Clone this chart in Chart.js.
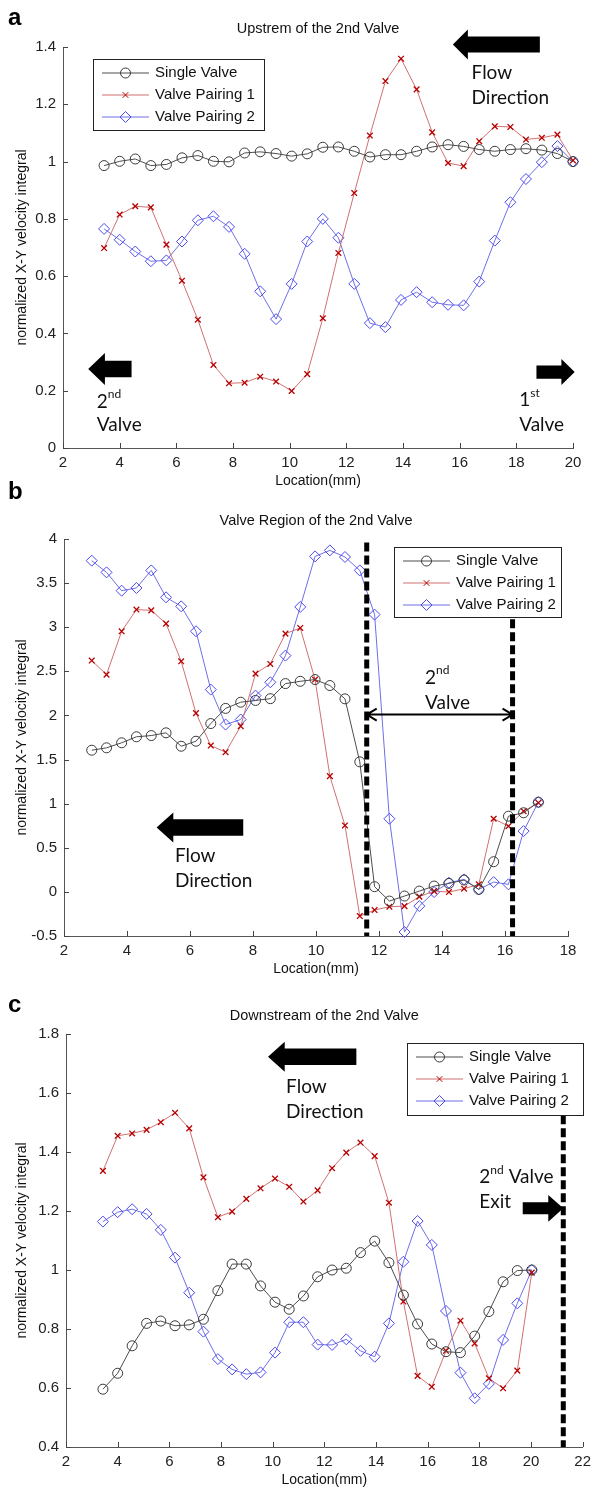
<!DOCTYPE html>
<html>
<head>
<meta charset="utf-8">
<script src="https://cdn.jsdelivr.net/npm/chart.js@4.4.1/dist/chart.umd.min.js"></script>
<style>
  body { margin: 0; background: #fff; width: 597px; height: 1490px; overflow: hidden; position: relative; }
  canvas { position: absolute; left: 0; }
</style>
</head>
<body>
<canvas id="chartA" width="597" height="495" style="top:0px"></canvas>
<canvas id="chartB" width="597" height="508" style="top:475px"></canvas>
<canvas id="chartC" width="597" height="505" style="top:985px"></canvas>
<script>
// series names (same three runs in every panel)
const SERIES = ["Single Valve", "Valve Pairing 1", "Valve Pairing 2"];

// a: upstream of the 2nd valve
const locUp = [3.45, 4.0, 4.55, 5.1, 5.65, 6.2, 6.76, 7.31, 7.86, 8.41, 8.96, 9.52, 10.07, 10.62, 11.17, 11.72,
  12.28, 12.83, 13.38, 13.93, 14.48, 15.03, 15.59, 16.14, 16.69, 17.24, 17.79, 18.34, 18.9, 19.45, 20.0];
const upSingle = [0.986, 1.001, 1.009, 0.986, 0.99, 1.013, 1.021, 1.001, 0.999, 1.03, 1.034, 1.028, 1.019, 1.027, 1.05, 1.051,
  1.036, 1.016, 1.024, 1.024, 1.036, 1.051, 1.059, 1.053, 1.042, 1.036, 1.042, 1.045, 1.04, 1.028, 1.0];
const upPair1 = [0.698, 0.815, 0.844, 0.84, 0.71, 0.584, 0.448, 0.29, 0.226, 0.228, 0.249, 0.232, 0.199, 0.258, 0.453, 0.681,
  0.89, 1.091, 1.281, 1.359, 1.252, 1.102, 0.995, 0.984, 1.071, 1.123, 1.121, 1.077, 1.083, 1.094, 1.004];
const upPair2 = [0.765, 0.727, 0.686, 0.652, 0.655, 0.721, 0.795, 0.809, 0.772, 0.678, 0.547, 0.45, 0.573, 0.721, 0.80, 0.734,
  0.573, 0.436, 0.422, 0.517, 0.544, 0.509, 0.50, 0.498, 0.581, 0.724, 0.858, 0.939, 0.998, 1.054, 1.0];

// b: valve region of the 2nd valve
const locValve = [2.88, 3.35, 3.83, 4.3, 4.77, 5.24, 5.72, 6.19, 6.66, 7.13, 7.61, 8.08, 8.55, 9.03, 9.5, 9.97,
  10.44, 10.92, 11.39, 11.86, 12.33, 12.81, 13.28, 13.75, 14.22, 14.7, 15.17, 15.64, 16.11, 16.59, 17.06];
const valveSingle = [1.606, 1.633, 1.69, 1.758, 1.772, 1.803, 1.651, 1.708, 1.908, 2.08, 2.15, 2.17, 2.19, 2.361, 2.387, 2.407,
  2.339, 2.188, 1.474, 0.059, -0.104, -0.047, 0.009, 0.066, 0.096, 0.134, 0.028, 0.342, 0.858, 0.897, 1.017];
const valvePair1 = [2.622, 2.463, 2.954, 3.2, 3.191, 3.041, 2.614, 2.026, 1.659, 1.583, 1.878, 2.474, 2.584, 2.927, 2.992, 2.407,
  1.312, 0.753, -0.274, -0.206, -0.168, -0.161, -0.054, 0.009, -0.002, 0.036, 0.085, 0.829, 0.745, 0.915, 1.01];
const valvePair2 = [3.754, 3.622, 3.414, 3.445, 3.644, 3.339, 3.237, 2.954, 2.293, 1.897, 1.954, 2.225, 2.376, 2.678, 3.23, 3.803,
  3.871, 3.796, 3.644, 3.143, 0.829, -0.455, -0.161, -0.002, 0.104, 0.142, 0.028, 0.111, 0.085, 0.689, 1.017];

// c: downstream of the 2nd valve
const locDown = [3.43, 4.0, 4.56, 5.12, 5.67, 6.22, 6.77, 7.32, 7.88, 8.43, 8.98, 9.53, 10.09, 10.64, 11.19, 11.74,
  12.3, 12.85, 13.4, 13.95, 14.5, 15.06, 15.61, 16.16, 16.71, 17.27, 17.82, 18.37, 18.92, 19.47, 20.03];
const downSingle = [0.596, 0.65, 0.743, 0.819, 0.827, 0.811, 0.814, 0.833, 0.93, 1.02, 1.02, 0.946, 0.891, 0.867, 0.912, 0.977,
  1.0, 1.006, 1.059, 1.098, 1.025, 0.915, 0.817, 0.749, 0.723, 0.72, 0.776, 0.859, 0.96, 0.998, 1.0];
const downPair1 = [1.336, 1.455, 1.463, 1.475, 1.501, 1.533, 1.48, 1.314, 1.179, 1.198, 1.241, 1.277, 1.31, 1.282, 1.232, 1.27,
  1.345, 1.398, 1.432, 1.386, 1.228, 0.893, 0.641, 0.604, 0.726, 0.828, 0.751, 0.633, 0.599, 0.659, 0.991];
const downPair2 = [1.164, 1.196, 1.206, 1.19, 1.136, 1.042, 0.923, 0.791, 0.698, 0.663, 0.647, 0.653, 0.72, 0.823, 0.823, 0.747,
  0.746, 0.765, 0.726, 0.706, 0.819, 1.028, 1.166, 1.085, 0.861, 0.652, 0.565, 0.614, 0.763, 0.887, 1.0];

const STYLE = [
  { line: "#4d4d4d", point: "#3a3a3a", pointStyle: "circle", radius: 5 },
  { line: "#d07070", point: "#b80000", pointStyle: "crossRot", radius: 4 },
  { line: "#6f6fe6", point: "#4a4af0", pointStyle: "rectRot", radius: 5.5 }
];
const FONT = "'Liberation Sans', Arial, sans-serif";
const NOTE_FONT = "Lato, 'Open Sans', sans-serif";
const tickFont = { family: FONT, size: 15 };
const tickText = v => String(+v.toFixed(2));   // 1 not 1.0, like the figure

function makeSets(loc, lists) {
  return lists.map((vals, i) => ({
    label: SERIES[i],
    data: vals.map((v, k) => ({ x: loc[k], y: v })),
    borderColor: STYLE[i].line, borderWidth: 1,
    pointStyle: STYLE[i].pointStyle, pointRadius: STYLE[i].radius,
    pointBorderColor: STYLE[i].point, pointBackgroundColor: "rgba(0,0,0,0)",
    pointBorderWidth: i === 1 ? 1.3 : 1,
    tension: 0, clip: false
  }));
}

function blockArrow(ctx, tipX, tipY, tailX, headLen, headHalf, bodyHalf) {
  const d = Math.sign(tailX - tipX);
  const hx = tipX + d * headLen;
  ctx.beginPath();
  ctx.moveTo(tipX, tipY);
  ctx.lineTo(hx, tipY - headHalf);
  ctx.lineTo(hx, tipY - bodyHalf);
  ctx.lineTo(tailX, tipY - bodyHalf);
  ctx.lineTo(tailX, tipY + bodyHalf);
  ctx.lineTo(hx, tipY + bodyHalf);
  ctx.lineTo(hx, tipY + headHalf);
  ctx.closePath();
  ctx.fill();
}

function richText(ctx, x, y, parts) {
  let cx = x;
  parts.forEach(p => {
    ctx.font = p.sup ? `12px ${NOTE_FONT}` : `19px ${NOTE_FONT}`;
    ctx.fillText(p.t, cx, p.sup ? y - 7 : y);
    cx += ctx.measureText(p.t).width;
  });
}

const decor = {
  id: "decor",
  afterDraw(chart, args, o) {
    const { ctx, chartArea: ca } = chart;
    const sx = chart.scales.x, sy = chart.scales.y;
    const px = v => sx.getPixelForValue(v), py = v => sy.getPixelForValue(v);
    ctx.save();

    // inward tick marks
    ctx.strokeStyle = "#444"; ctx.lineWidth = 1;
    ctx.beginPath();
    sx.ticks.forEach(t => { const X = Math.round(px(t.value)) + 0.5; ctx.moveTo(X, ca.bottom); ctx.lineTo(X, ca.bottom - 5); });
    sy.ticks.forEach(t => { const Y = Math.round(py(t.value)) + 0.5; ctx.moveTo(ca.left, Y); ctx.lineTo(ca.left + 5, Y); });
    ctx.stroke();

    // titles
    ctx.fillStyle = "#111"; ctx.textAlign = "center"; ctx.textBaseline = "middle";
    ctx.font = `14.5px ${FONT}`;
    ctx.fillText(o.title, (ca.left + ca.right) / 2, ca.top - 18);
    ctx.font = `14px ${FONT}`;
    ctx.fillText("Location(mm)", (ca.left + ca.right) / 2, ca.bottom + 33);
    ctx.save();
    ctx.translate(22, (ca.top + ca.bottom) / 2);
    ctx.rotate(-Math.PI / 2);
    ctx.fillText("normalized X-Y velocity integral", 0, 0);
    ctx.restore();
    ctx.textAlign = "left";
    ctx.font = `bold 24px ${FONT}`;
    ctx.fillStyle = "#000";
    ctx.fillText(o.letter, o.letterX, o.letterY);

    // dashed valve boundaries
    ctx.strokeStyle = "#000"; ctx.lineWidth = 5; ctx.setLineDash([9, 4]);
    (o.dashes || []).forEach(d => {
      ctx.beginPath(); ctx.moveTo(px(d.x), py(d.from)); ctx.lineTo(px(d.x), ca.bottom); ctx.stroke();
    });
    ctx.setLineDash([]);

    // double-headed span arrow
    if (o.span) {
      const x1 = px(o.span.x1), x2 = px(o.span.x2), y = py(o.span.y);
      ctx.lineWidth = 2;
      ctx.beginPath();
      ctx.moveTo(x1, y); ctx.lineTo(x2, y);
      ctx.moveTo(x1 + 10, y - 6); ctx.lineTo(x1, y); ctx.lineTo(x1 + 10, y + 6);
      ctx.moveTo(x2 - 10, y - 6); ctx.lineTo(x2, y); ctx.lineTo(x2 - 10, y + 6);
      ctx.stroke();
    }

    // block arrows
    ctx.fillStyle = "#000";
    (o.arrows || []).forEach(a => blockArrow(ctx, px(a.x), py(a.y), px(a.tail), a.head, a.headHalf, a.body));

    // annotation text
    ctx.fillStyle = "#111";
    (o.notes || []).forEach(n => richText(ctx, px(n.x), py(n.y), n.parts));

    // legend
    const L = o.legend;
    const bx = ca.left + L.dx, by = ca.top + L.dy;
    ctx.fillStyle = "#fff"; ctx.fillRect(bx, by, L.w, L.h);
    ctx.strokeStyle = "#222"; ctx.lineWidth = 1;
    ctx.strokeRect(Math.round(bx) + 0.5, Math.round(by) + 0.5, L.w, L.h);
    chart.data.datasets.forEach((ds, i) => {
      const y = by + 14 + i * 22;
      ctx.strokeStyle = ds.borderColor; ctx.lineWidth = 1;
      ctx.beginPath(); ctx.moveTo(bx + 9, y); ctx.lineTo(bx + 56, y); ctx.stroke();
      ctx.strokeStyle = ds.pointBorderColor; ctx.fillStyle = "rgba(0,0,0,0)";
      Chart.helpers.drawPoint(ctx, { pointStyle: ds.pointStyle, radius: ds.pointRadius, rotation: 0, borderWidth: ds.pointBorderWidth }, bx + 32.5, y);
      ctx.fillStyle = "#111"; ctx.font = `15px ${FONT}`; ctx.textBaseline = "middle";
      ctx.fillText(ds.label, bx + 62, y);
    });
    ctx.restore();
  }
};

function build(id, loc, lists, axis, pad, deco) {
  return new Chart(document.getElementById(id), {
    type: "line",
    data: { datasets: makeSets(loc, lists) },
    options: {
      responsive: false, animation: false,
      layout: { padding: { top: pad.top, right: pad.right, left: 0, bottom: 0 } },
      plugins: { legend: { display: false }, tooltip: { enabled: false }, decor: deco },
      scales: {
        x: {
          type: "linear", min: axis.xMin, max: axis.xMax,
          afterFit: s => { s.height = pad.xh; },
          ticks: { stepSize: 2, font: tickFont, color: "#222", padding: 6, maxRotation: 0, callback: tickText },
          grid: { display: false, drawTicks: false }, border: { color: "#555" }
        },
        y: {
          min: axis.yMin, max: axis.yMax,
          afterFit: s => { s.width = pad.yw; },
          ticks: { stepSize: axis.yStep, font: tickFont, color: "#222", padding: 7, callback: tickText },
          grid: { display: false, drawTicks: false }, border: { color: "#555" }
        }
      }
    },
    plugins: [decor]
  });
}

const sup = (a, b, c) => [{ t: a }, { t: b, sup: true }, { t: c || "" }];

build("chartA", locUp, [upSingle, upPair1, upPair2],
  { xMin: 2, xMax: 20, yMin: 0, yMax: 1.4, yStep: 0.2 },
  { top: 47, right: 24, xh: 47, yw: 63 },
  {
    letter: "a", letterX: 8, letterY: 18, title: "Upstrem of the 2nd Valve",
    legend: { dx: 30, dy: 12, w: 171, h: 71 },
    arrows: [
      { x: 15.76, y: 1.409, tail: 18.83, head: 15, headHalf: 15, body: 8 },
      { x: 2.89, y: 0.276, tail: 4.42, head: 16.7, headHalf: 16, body: 8.3 },
      { x: 20.06, y: 0.265, tail: 18.71, head: 13.3, headHalf: 13, body: 6.7 }
    ],
    notes: [
      { x: 16.42, y: 1.31, parts: [{ t: "Flow" }] },
      { x: 16.42, y: 1.223, parts: [{ t: "Direction" }] },
      { x: 3.19, y: 0.162, parts: sup("2", "nd") },
      { x: 3.19, y: 0.08, parts: [{ t: "Valve" }] },
      { x: 18.1, y: 0.168, parts: sup("1", "st") },
      { x: 18.1, y: 0.08, parts: [{ t: "Valve" }] }
    ]
  });

build("chartB", locValve, [valveSingle, valvePair1, valvePair2],
  { xMin: 2, xMax: 18, yMin: -0.5, yMax: 4, yStep: 0.5 },
  { top: 64, right: 29, xh: 47, yw: 64 },
  {
    letter: "b", letterX: 8, letterY: 17, title: "Valve Region of the 2nd Valve",
    legend: { dx: 330, dy: 8, w: 167, h: 70 },
    dashes: [{ x: 11.61, from: 3.96 }, { x: 16.24, from: 3.09 }],
    span: { x1: 11.61, x2: 16.24, y: 2.01 },
    arrows: [{ x: 4.94, y: 0.73, tail: 7.69, head: 16.7, headHalf: 15, body: 8.3 }],
    notes: [
      { x: 5.52, y: 0.405, parts: [{ t: "Flow" }] },
      { x: 5.52, y: 0.13, parts: [{ t: "Direction" }] },
      { x: 13.46, y: 2.43, parts: sup("2", "nd") },
      { x: 13.46, y: 2.146, parts: [{ t: "Valve" }] }
    ]
  });

build("chartC", locDown, [downSingle, downPair1, downPair2],
  { xMin: 2, xMax: 22, yMin: 0.4, yMax: 1.8, yStep: 0.2 },
  { top: 49, right: 9, xh: 43, yw: 66 },
  {
    letter: "c", letterX: 8, letterY: 20, title: "Downstream of the 2nd Valve",
    legend: { dx: 341, dy: 9, w: 176, h: 72 },
    dashes: [{ x: 21.25, from: 1.525 }],
    arrows: [
      { x: 9.82, y: 1.723, tail: 13.24, head: 16.7, headHalf: 15, body: 8.3 },
      { x: 21.25, y: 1.209, tail: 19.68, head: 15, headHalf: 13.3, body: 6 }
    ],
    notes: [
      { x: 10.52, y: 1.621, parts: [{ t: "Flow" }] },
      { x: 10.52, y: 1.537, parts: [{ t: "Direction" }] },
      { x: 18.0, y: 1.316, parts: sup("2", "nd", " Valve") },
      { x: 18.0, y: 1.232, parts: [{ t: "Exit" }] }
    ]
  });
</script>
</body>
</html>
